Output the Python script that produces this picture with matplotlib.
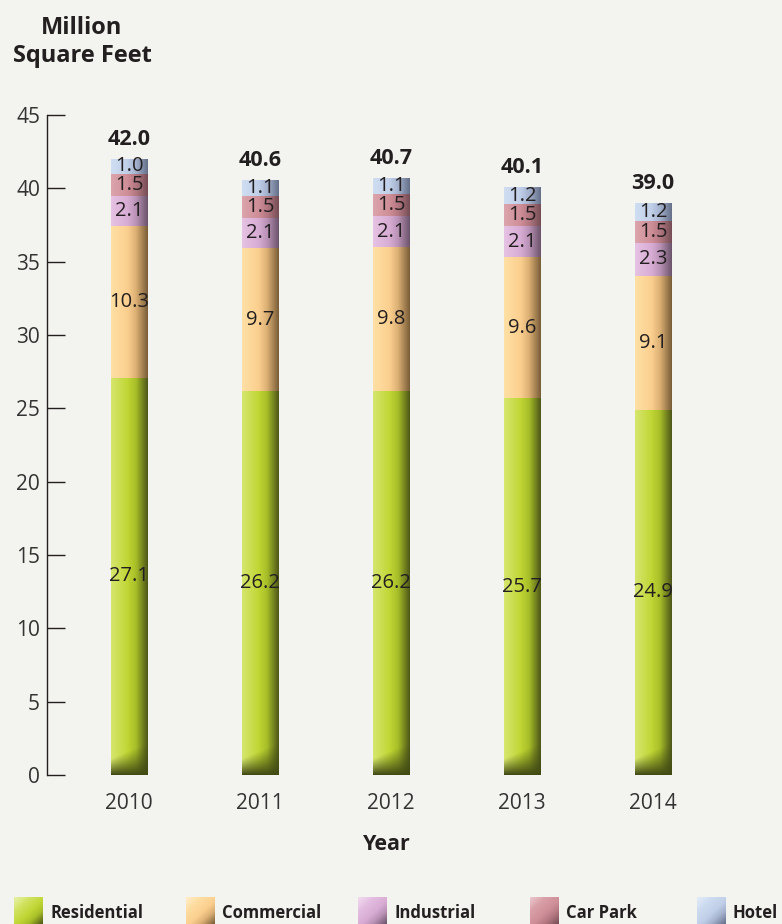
import numpy as np
import matplotlib
matplotlib.use("Agg")
import matplotlib.pyplot as plt

# ---- data ----
years = ["2010", "2011", "2012", "2013", "2014"]
residential = [27.1, 26.2, 26.2, 25.7, 24.9]
commercial = [10.3, 9.7, 9.8, 9.6, 9.1]
industrial = [2.1, 2.1, 2.1, 2.1, 2.3]
car_park = [1.5, 1.5, 1.5, 1.5, 1.5]
hotel = [1.0, 1.1, 1.1, 1.2, 1.2]
series_names = ["Residential", "Commercial", "Industrial", "Car Park", "Hotel"]
y_ticks = [0, 5, 10, 15, 20, 25, 30, 35, 40, 45]

# ---- style ----
BG = "#f3f3ef"
TXT = "#231f20"
FONT = ["Open Sans", "DejaVu Sans"]
plt.rcParams["font.family"] = FONT

# colour ramps across the bar width (left -> right), values 0..255
ramps = [
    [(0.0, (214, 230, 110)), (0.45, (192, 214, 52)), (0.68, (168, 190, 40)), (1.0, (78, 88, 24))],
    [(0.0, (255, 224, 165)), (0.45, (251, 207, 142)), (0.68, (220, 176, 116)), (1.0, (122, 94, 56))],
    [(0.0, (230, 194, 228)), (0.45, (216, 172, 212)), (0.68, (186, 146, 182)), (1.0, (108, 84, 108))],
    [(0.0, (220, 164, 172)), (0.45, (206, 142, 152)), (0.68, (180, 120, 130)), (1.0, (118, 78, 86))],
    [(0.0, (208, 222, 242)), (0.45, (192, 207, 232)), (0.68, (164, 178, 206)), (1.0, (102, 112, 138))],
]


def ramp_color(stops, t):
    ts = np.array([s[0] for s in stops])
    cols = np.array([s[1] for s in stops], dtype=float) / 255.0
    return np.stack([np.interp(t, ts, cols[:, c]) for c in range(3)], axis=-1)


def bar_image(stops, height_px, shadow=False, ncols=60):
    nrows = max(int(height_px), 2)
    t = np.linspace(0, 1, ncols)
    row = ramp_color(stops, t)  # (ncols, 3)
    img = np.repeat(row[None, :, :], nrows, axis=0)
    if shadow:
        dist = np.arange(nrows)[::-1][:, None].astype(float)  # px from bottom (row 0 = top)
        reach = 16 + 16 * t[None, :]
        s = np.clip(1 - dist / reach, 0, 1) ** 1.1
        dark = np.array(stops[-1][1], dtype=float) / 255.0 * 0.85
        img = img * (1 - s[..., None]) + dark * s[..., None]
    return img


fig = plt.figure(figsize=(7.82, 9.24), dpi=100, facecolor=BG)
ax = fig.add_axes([47 / 782, 1 - 775 / 924, 1 - 47 / 782, 660 / 924])
ax.set_facecolor(BG)

x = np.arange(len(years))
width = 0.275
px_per_unit = 660 / 45

all_series = [residential, commercial, industrial, car_park, hotel]
bottom = np.zeros(len(years))
for si, vals in enumerate(all_series):
    vals = np.array(vals)
    bars = ax.bar(x, vals, width, bottom=bottom, color=ramp_color(ramps[si], 0.4),
                  linewidth=0, zorder=2)
    for bi, patch in enumerate(bars):
        x0, y0 = patch.get_x(), patch.get_y()
        w, h = patch.get_width(), patch.get_height()
        img = bar_image(ramps[si], h * px_per_unit, shadow=(si == 0))
        im = ax.imshow(img, extent=[x0, x0 + w, y0, y0 + h], aspect="auto",
                       interpolation="bilinear", zorder=3)
        im.set_clip_path(patch)
        ax.text(x0 + w / 2, y0 + h / 2, f"{vals[bi]:.1f}", ha="center", va="center",
                fontsize=14.5, color=TXT, zorder=5)
    bottom = bottom + vals

for xi, tot in zip(x, bottom):
    ax.text(xi, tot + 1.3, f"{tot:.1f}", ha="center", va="center", fontsize=15.5,
            fontweight="bold", color=TXT, zorder=5)

ax.set_xlim((47 - 129) / 131, (782 - 129) / 131)
ax.set_ylim(0, 45)
ax.set_yticks(y_ticks)
ax.tick_params(axis="y", direction="in", length=13, width=1, colors=TXT,
               labelsize=15, pad=5, labelcolor="#333333")
ax.set_xticks(x)
ax.set_xticklabels(years)
ax.tick_params(axis="x", length=0, labelsize=15, pad=13, labelcolor="#333333")
for sp in ["top", "right", "bottom"]:
    ax.spines[sp].set_visible(False)
ax.spines["left"].set_color(TXT)
ax.spines["left"].set_linewidth(1)
ax.set_xlabel("Year", fontsize=15.5, fontweight="bold", color=TXT, labelpad=14)
ax.xaxis.set_label_coords((387 - 47) / 735, -0.0895)

fig.text(82 / 782, 1 - 42 / 924, "Million\nSquare Feet", ha="center", va="center",
         fontsize=17, fontweight="bold", color=TXT, linespacing=1.2)

# legend: diagonal-gradient swatches plus bold labels
legend_x = [14, 186, 358, 530, 697]
yy, xx = np.mgrid[0:1:40j, 0:1:40j]
diag = np.clip((xx + yy) / 2, 0, 1)
for si, name in enumerate(series_names):
    sax = fig.add_axes([legend_x[si] / 782, 0, 29 / 782, 27 / 924])
    stops = ramps[si]
    light = np.array(stops[0][1], float) / 255 * 0.6 + 0.4
    tt = np.clip((diag - 0.2) / 0.8, 0, 1)
    img = ramp_color(stops, tt)
    img = np.where((diag < 0.25)[..., None], img * (diag[..., None] / 0.25) + light * (1 - diag[..., None] / 0.25), img)
    sax.imshow(img, aspect="auto", extent=[0, 1, 0, 1], interpolation="bilinear")
    sax.set_axis_off()
    fig.text((legend_x[si] + 36) / 782, 1 - 913 / 924, name, ha="left", va="center",
             fontsize=12, fontweight="bold", color=TXT)

fig.savefig("out.png", dpi=100, facecolor=BG)
